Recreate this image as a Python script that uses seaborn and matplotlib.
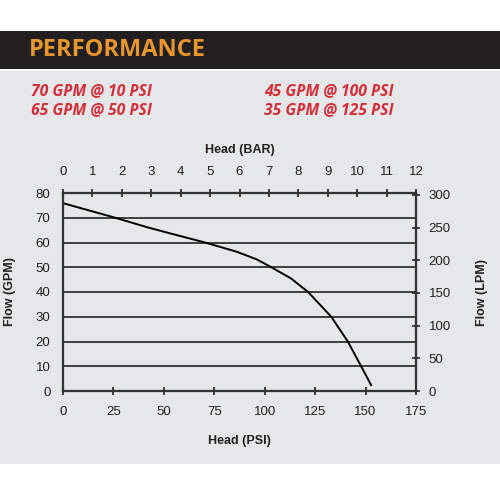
import matplotlib
matplotlib.use("Agg")
import matplotlib.pyplot as plt
import seaborn as sns
import pandas as pd
from matplotlib.patches import Rectangle

# pump curve
head_psi = [0, 13.6, 25.9, 41.6, 53, 70.4, 86, 96, 103.3, 113, 121.5, 133, 141.2, 147.8, 152.8]
flow_gpm = [75.9, 72.8, 70, 66.2, 63.7, 60, 56.3, 53.2, 50, 45.5, 40, 30, 20, 10, 2.3]

psi_ticks = [0, 25, 50, 75, 100, 125, 150, 175]
bar_ticks = list(range(0, 13))
gpm_ticks = [0, 10, 20, 30, 40, 50, 60, 70, 80]
lpm_ticks = [0, 50, 100, 150, 200, 250, 300]

ratings_left = ["70 GPM @ 10 PSI", "65 GPM @ 50 PSI"]
ratings_right = ["45 GPM @ 100 PSI", "35 GPM @ 125 PSI"]

df = pd.DataFrame({"psi": head_psi, "gpm": flow_gpm})

sns.set_theme(style="ticks")
plt.rcParams["font.family"] = ["Liberation Sans", "DejaVu Sans"]

grey = "#e6e7e8"
ink = "#231f20"

fig = plt.figure(figsize=(5, 5), dpi=100, facecolor="white")

# header bands
fig.patches.append(Rectangle((0, 0.072), 1, 0.786, transform=fig.transFigure,
                             facecolor=grey, edgecolor="none", zorder=-10))
fig.patches.append(Rectangle((0, 0.862), 1, 0.076, transform=fig.transFigure,
                             facecolor=ink, edgecolor="none", zorder=-10))
fig.text(0.058, 0.899, "PERFORMANCE", color="#e8962e", fontsize=17,
         fontweight="bold", family="Open Sans", va="center")

for i, t in enumerate(ratings_left):
    fig.text(0.062, 0.818 - i * 0.038, t, color="#d42e3a", fontsize=11.3,
             fontweight="bold", style="italic", family="Open Sans", va="center")
for i, t in enumerate(ratings_right):
    fig.text(0.528, 0.818 - i * 0.038, t, color="#d42e3a", fontsize=11.3,
             fontweight="bold", style="italic", family="Open Sans", va="center")

ax = fig.add_axes([0.126, 0.218, 0.706, 0.396])
ax.set_facecolor(grey)

sns.lineplot(data=df, x="psi", y="gpm", ax=ax, color="black", linewidth=1.4,
             zorder=5)

ax.set_xlim(0, 175)
ax.set_ylim(0, 80)
ax.set_xticks(psi_ticks)
ax.set_yticks(gpm_ticks)
ax.yaxis.grid(True, color="#222222", linewidth=1.2)
ax.set_axisbelow(True)
ax.set_xlabel("Head (PSI)", fontsize=9, fontweight="bold", labelpad=12, color=ink)
ax.set_ylabel("Flow (GPM)", fontsize=9, fontweight="bold", labelpad=14, color=ink)
ax.tick_params(axis="x", direction="inout", length=6, width=1.2, pad=8,
               labelsize=9.5, colors=ink)
ax.tick_params(axis="y", length=0, pad=9, labelsize=9.5, colors=ink)

ax_top = ax.twiny()
ax_top.set_xlim(0, 12)
ax_top.set_xticks(bar_ticks)
ax_top.set_xlabel("Head (BAR)", fontsize=9, fontweight="bold", labelpad=9, color=ink)
ax_top.tick_params(axis="x", direction="inout", length=6, width=1.2, pad=8,
                   labelsize=9.5, colors=ink)

ax_right = ax.twinx()
ax_right.set_ylim(0, 80 * 3.785)
ax_right.set_yticks(lpm_ticks)
ax_right.set_ylabel("Flow (LPM)", fontsize=9, fontweight="bold", labelpad=18, color=ink)
ax_right.tick_params(axis="y", direction="inout", length=6, width=1.2, pad=6,
                     labelsize=9.5, colors=ink)

for a in (ax, ax_top, ax_right):
    for s in a.spines.values():
        s.set_visible(True)
        s.set_color("#333333")
        s.set_linewidth(1.5)

fig.savefig("out.png", dpi=100, facecolor="white")
